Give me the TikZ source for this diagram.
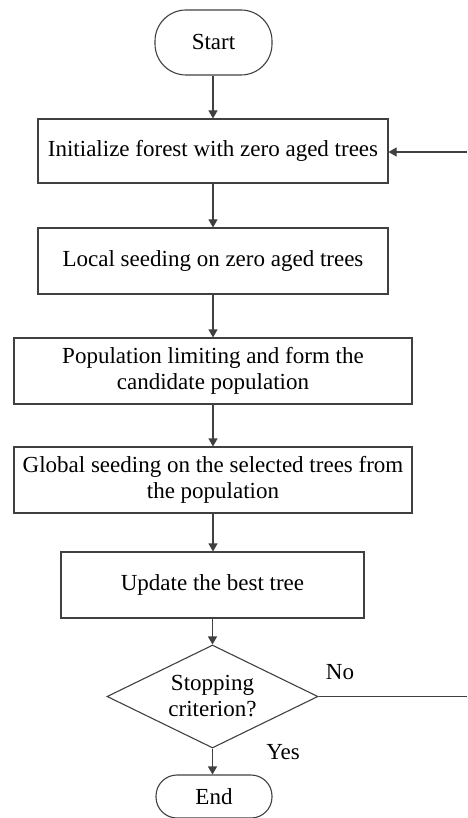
\documentclass[tikz,border=0pt]{standalone}
\usepackage{fontspec}
\setmainfont{Liberation Serif}
\usetikzlibrary{shapes.geometric,arrows.meta}
\begin{document}
\begin{tikzpicture}[x=1pt,y=-1pt,
  every node/.style={font=\rmfamily\fontsize{23}{26}\selectfont, text=black},
  ln/.style={draw=black!75, line width=1.1pt},
  procbox/.style={ln, rectangle, inner sep=0pt, align=center},
  term/.style={ln, rectangle, rounded corners=#1, inner sep=0pt},
  decide/.style={ln, diamond, shape aspect=2, inner sep=0pt, align=center, minimum width=211pt, minimum height=103pt},
  arr/.style={ln, -{Triangle[length=8pt,width=9pt]}},
  lbl/.style={inner sep=0pt}
]
\clip (0,0) rectangle (467,818);
\useasboundingbox (0,0) rectangle (467,818);
\node[term=31pt, minimum width=117pt, minimum height=65pt] (start) at (213.5,42.5) {Start};
\node[procbox, minimum width=350pt, minimum height=64pt] (init) at (213,151) {Initialize forest with zero aged trees};
\node[procbox, minimum width=350pt, minimum height=66pt] (local) at (213,261) {Local seeding on zero aged trees};
\node[procbox, minimum width=398pt, minimum height=66pt] (pop) at (213,371) {Population limiting and form the\\candidate population};
\node[procbox, minimum width=398pt, minimum height=66pt] (glob) at (213,480) {Global seeding on the selected trees from\\the population};
\node[procbox, minimum width=303pt, minimum height=66pt] (upd) at (212.5,585) {Update the best tree};
\node[decide] (stop) at (212.5,696.5) {Stopping\\criterion?};
\node[term=21pt, minimum width=116pt, minimum height=43pt] (end) at (214,796.5) {End};
\node[lbl] (no) at (340,672) {No};
\node[lbl] (yes) at (283,752) {Yes};
\coordinate (noend) at (467,696.5);
\coordinate (fbstart) at (467,152);
\draw[arr] (start.south -| init.north) -- (init.north);
\draw[arr] (init) -- (local);
\draw[arr] (local) -- (pop);
\draw[arr] (pop) -- (glob);
\draw[arr] (glob.south) -- (glob.south |- upd.north);
\draw[arr] (upd.south) -- (stop.north);
\draw[arr] (stop.south) -- (stop.south |- end.north);
\draw[ln] (stop.east) -- (noend);
\draw[arr] (fbstart) -- (fbstart -| init.east);
\end{tikzpicture}
\end{document}
